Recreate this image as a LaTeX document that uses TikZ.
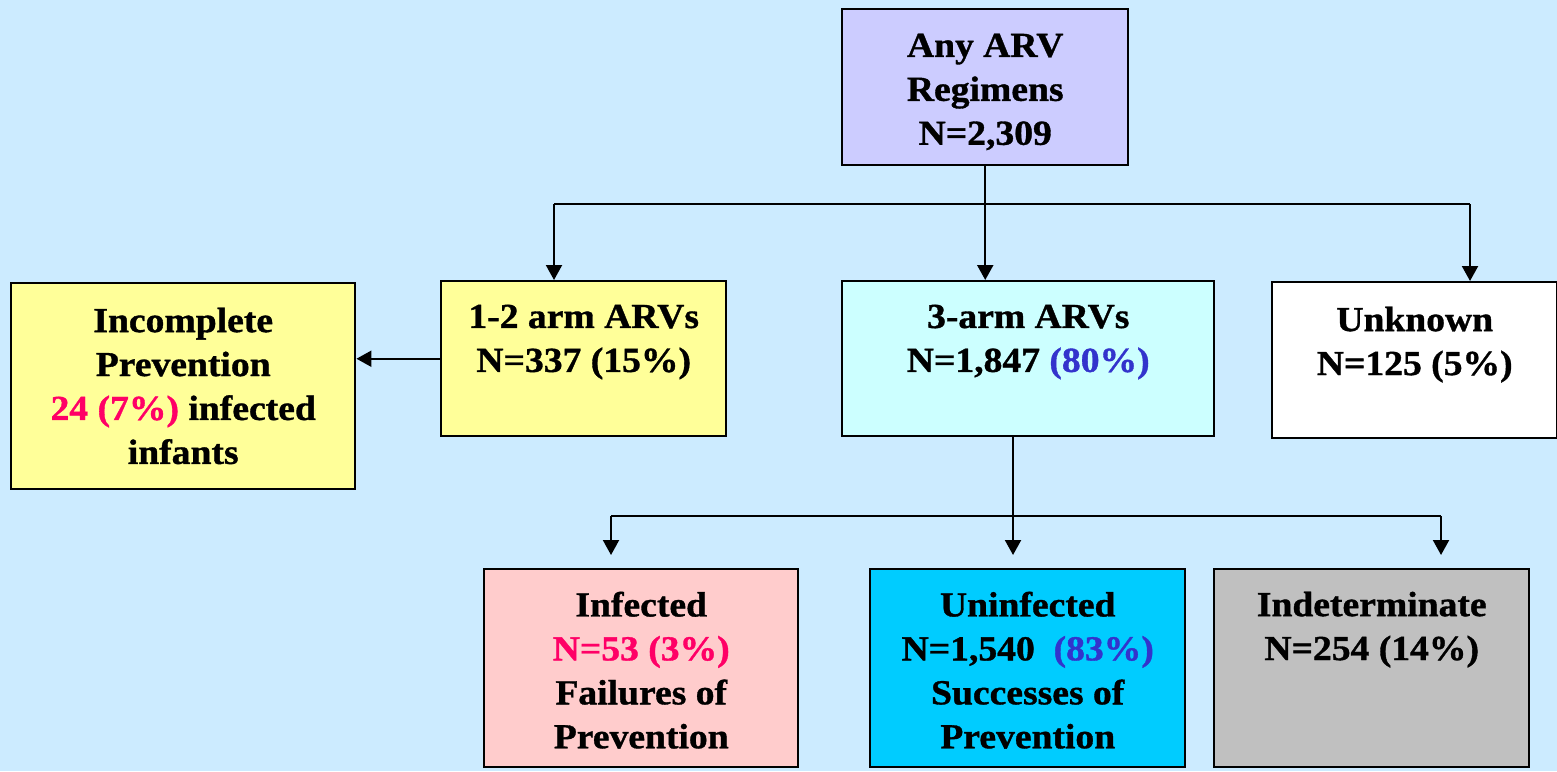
\documentclass[tikz,border=0pt]{standalone}
\usepackage{fontspec}
\setmainfont{Liberation Serif}[FakeStretch=1.07,BoldFeatures={FakeBold=1}]
\usetikzlibrary{arrows.meta}
\definecolor{bgc}{HTML}{CCEBFF}
\definecolor{lav}{HTML}{CCCCFF}
\definecolor{yel}{HTML}{FFFF99}
\definecolor{lcy}{HTML}{CCFFFF}
\definecolor{pnk}{HTML}{FFCCCC}
\definecolor{cya}{HTML}{00CCFF}
\definecolor{gry}{HTML}{C0C0C0}
\definecolor{redt}{HTML}{FF0066}
\definecolor{blut}{HTML}{3333CC}
\tikzset{
  box/.style={draw=black, line width=0.7pt, anchor=north west, inner sep=0pt},
  txt/.style={anchor=north, align=center, inner sep=0pt,
    font=\bfseries\fontsize{10}{12.5}\selectfont},
  arr/.style={line width=0.6pt, -{Triangle[length=0.15cm,width=0.16cm]}},
  ln/.style={line width=0.6pt}
}
\begin{document}
\begin{tikzpicture}
\path[use as bounding box, fill=bgc] (0,0) rectangle (15.57,-7.71);
% boxes
\node[box, fill=lav, minimum width=2.86cm, minimum height=1.56cm] (top) at (8.41,-0.08) {};
\node[box, fill=yel, minimum width=2.85cm, minimum height=1.55cm] (one2) at (4.40,-2.80) {};
\node[box, fill=yel, minimum width=3.44cm, minimum height=2.06cm] (inc) at (0.10,-2.82) {};
\node[box, fill=lcy, minimum width=3.72cm, minimum height=1.55cm] (three) at (8.41,-2.80) {};
\node[box, fill=white, minimum width=2.85cm, minimum height=1.56cm] (unk) at (12.71,-2.81) {};
\node[box, fill=pnk, minimum width=3.14cm, minimum height=1.98cm] (inf) at (4.83,-5.68) {};
\node[box, fill=cya, minimum width=3.15cm, minimum height=1.98cm] (uninf) at (8.69,-5.68) {};
\node[box, fill=gry, minimum width=3.15cm, minimum height=1.98cm] (indet) at (12.13,-5.68) {};
% texts
\node[txt] (ttop) at ([yshift=-0.25cm]top.north) {Any ARV\\Regimens\\N=2,309};
\node[txt] (tone2) at ([yshift=-0.24cm]one2.north) {1-2 arm ARVs\\N=337 (15\%)};
\node[txt] (tinc) at ([yshift=-0.25cm]inc.north) {Incomplete\\Prevention\\\textcolor{redt}{24 (7\%)} infected\\infants};
\node[txt] (tthree) at ([yshift=-0.24cm]three.north) {3-arm ARVs\\N=1,847 \textcolor{blut}{(80\%)}};
\node[txt] (tunk) at ([yshift=-0.25cm]unk.north) {Unknown\\N=125 (5\%)};
\node[txt] (tinf) at ([yshift=-0.23cm]inf.north) {Infected\\\textcolor{redt}{N=53 (3\%)}\\Failures of\\Prevention};
\node[txt] (tuninf) at ([yshift=-0.23cm]uninf.north) {Uninfected\\N=1,540\ \ \textcolor{blut}{(83\%)}\\Successes of\\Prevention};
\node[txt] (tindet) at ([yshift=-0.23cm]indet.north) {Indeterminate\\N=254 (14\%)};
% connectors level 1
\coordinate (h1L) at (5.54,-2.04);
\coordinate (h1R) at (14.70,-2.04);
\draw[ln] (h1L) -- (h1R);
\draw[arr] (top.south) -- (top.south |- three.north);
\draw[arr] (h1L) -- (h1L |- one2.north);
\draw[arr] (h1R) -- (h1R |- unk.north);
% left arrow
\draw[arr] (one2.west) -- (one2.west -| inc.east);
% level 2
\coordinate (s3) at ([xshift=1.72cm]three.south west);
\coordinate (h2L) at (6.11,-5.16);
\coordinate (h2R) at (14.41,-5.16);
\draw[ln] (h2L) -- (h2R);
\draw[arr, shorten >=0.13cm] (s3) -- (s3 |- uninf.north);
\draw[arr, shorten >=0.13cm] (h2L) -- (h2L |- inf.north);
\draw[arr, shorten >=0.13cm] (h2R) -- (h2R |- indet.north);
\end{tikzpicture}
\end{document}
